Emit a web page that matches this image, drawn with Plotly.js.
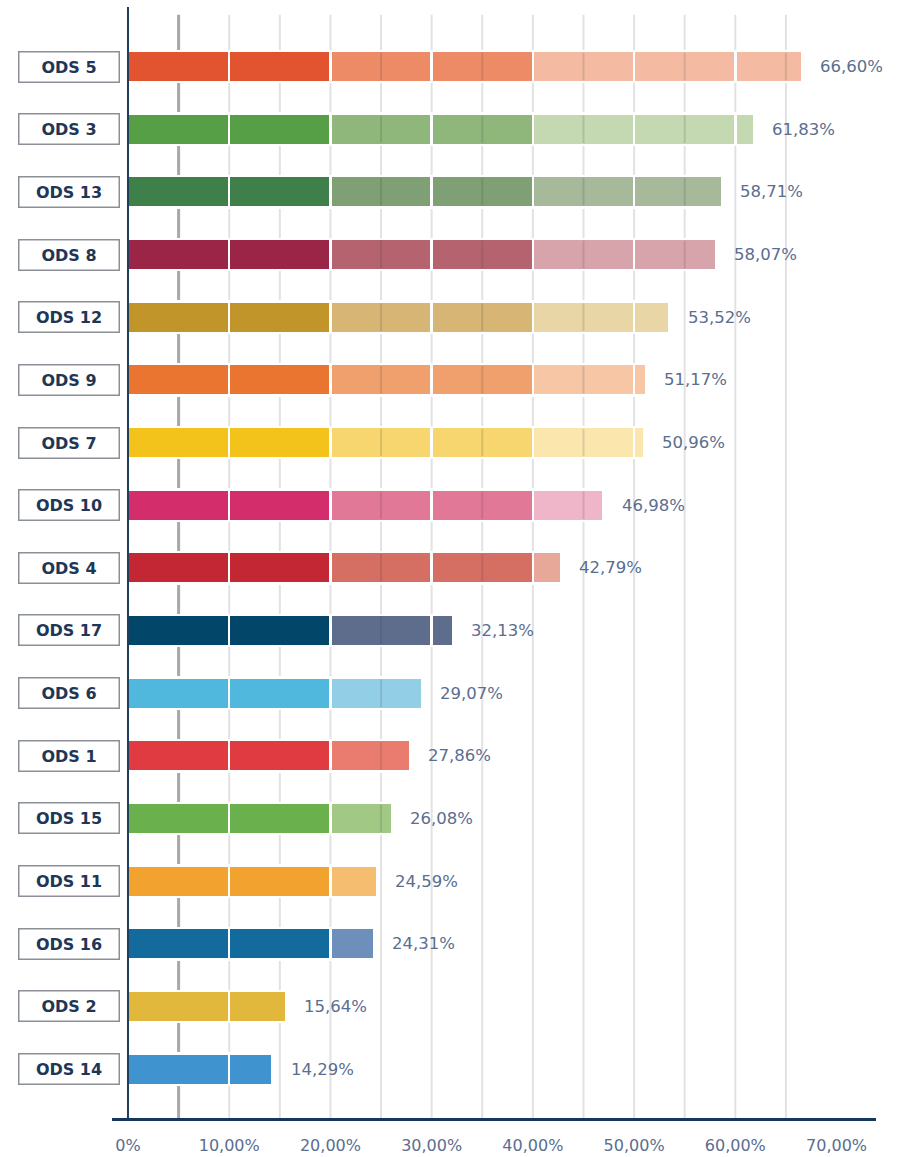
<!DOCTYPE html>
<html>
<head>
<meta charset="utf-8">
<script src="https://cdn.plot.ly/plotly-3.0.1.min.js"></script>
<style>html,body{margin:0;padding:0;background:#fff;}#chart{width:905px;height:1157px;}</style>
</head>
<body>
<div id="chart"></div>
<script>
// ---- data ----
var categories = ["ODS 5","ODS 3","ODS 13","ODS 8","ODS 12","ODS 9","ODS 7","ODS 10","ODS 4","ODS 17","ODS 6","ODS 1","ODS 15","ODS 11","ODS 16","ODS 2","ODS 14"];
var values = [66.60, 61.83, 58.71, 58.07, 53.52, 51.17, 50.96, 46.98, 42.79, 32.13, 29.07, 27.86, 26.08, 24.59, 24.31, 15.64, 14.29];
var baseColors  = ["#e2542f","#569f47","#3f7f4a","#9b2546","#c2952b","#ea7530","#f3c31c","#d42d6b","#c32733","#02466a","#50b8dc","#e03b40","#6ab04c","#f2a22f","#136a9d","#e2b83c","#3f93cf"];
var midColors   = ["#ee8b67","#8fb77b","#7fa074","#b5636f","#d7b574","#f0a06c","#f7d56f","#e27897","#d56e63","#5d6d8b","#92cfe7","#e97c6e","#a2c886","#f5bd6f","#6f8fbb","#f0d27a","#8cbde3"];
var lightColors = ["#f4bba2","#c4d8b2","#a6b99a","#d7a4ab","#e8d6a6","#f6c6a5","#fbe6ae","#efb5c8","#e8a899","#a9b3c6","#c6e6f3","#f3b4aa","#cfe2c0","#f9dcb0","#b3c5dd","#f6e6b5","#c3dcf0"];
var tickValues = [0,10,20,30,40,50,60,70];
var tickLabels = ["0%","10,00%","20,00%","30,00%","40,00%","50,00%","60,00%","70,00%"];
var gridValues = [5,10,15,20,25,30,35,40,45,50,55,60,65];

// ---- build ----
var idx = categories.map(function(_, i){ return i; });
var traces = [];
for (var k = 0; k < 7; k++) {
  var lens = values.map(function(v){
    var l = Math.min(Math.max(v - 10*k, 0), 10);
    return l > 0 ? l : null;
  });
  var cols = values.map(function(_, i){
    return k < 2 ? baseColors[i] : (k < 4 ? midColors[i] : lightColors[i]);
  });
  traces.push({
    type: 'bar', orientation: 'h', x: lens, y: idx,
    width: 0.5,
    marker: {color: cols, line: {color: '#ffffff', width: 2.5}},
    hoverinfo: 'skip', showlegend: false
  });
}

var shapes = [];
gridValues.forEach(function(g){
  shapes.push({type:'line', layer:'below', xref:'x', yref:'paper', x0:g, x1:g, y0:0, y1:0.993,
    line:{color: g === 5 ? '#a8a8a8' : '#e2e2e2', width: g === 5 ? 3 : 2}});
});
// darker grid showing through the lighter bar segments
values.forEach(function(v, i){
  gridValues.forEach(function(g){
    if (g > 20 && g % 10 === 5 && g < v) {
      shapes.push({type:'line', layer:'above', xref:'x', yref:'y', x0:g, x1:g, y0:i-0.22, y1:i+0.22,
        line:{color:'rgba(60,60,60,0.16)', width:2}});
    }
  });
});
// vertical axis line at 0
shapes.push({type:'line', layer:'above', xref:'x', yref:'paper', x0:0, x1:0, y0:0, y1:1,
  line:{color:'#1d3d5c', width:2}});

var annotations = [];
categories.forEach(function(c, i){
  annotations.push({xref:'paper', yref:'y', x:-0.0563, y:i, xanchor:'center', yanchor:'middle',
    text: c, showarrow:false, width:96, height:26, borderpad:1.5, borderwidth:1.5,
    bordercolor:'#8b9096', bgcolor:'#ffffff',
    font:{family:'DejaVu Sans', size:16, color:'#1f3756', weight:'bold'}});
  annotations.push({xref:'x', yref:'y', x:values[i], y:i, xanchor:'left', yanchor:'middle', xshift:16,
    text: values[i].toFixed(2).replace('.', ',') + '%', showarrow:false,
    font:{family:'DejaVu Sans', size:16.5, color:'#5a6e90'}});
});

var layout = {
  width: 905, height: 1157,
  margin: {l:112, r:29, t:7, b:39},
  paper_bgcolor:'#ffffff', plot_bgcolor:'#ffffff',
  barmode:'stack', bargap:0,
  xaxis: {range:[-1.58, 73.9], tickvals: tickValues, ticktext: tickLabels,
    showgrid:false, zeroline:false, showline:true, linecolor:'#17375a', linewidth:3,
    ticks:'outside', ticklen:11, tickcolor:'rgba(0,0,0,0)',
    tickfont:{family:'DejaVu Sans', size:16, color:'#5a6e90'}, fixedrange:true},
  yaxis: {range:[16.78, -0.95], showticklabels:false, showgrid:false, zeroline:false, showline:false, fixedrange:true},
  shapes: shapes, annotations: annotations
};

Plotly.newPlot('chart', traces, layout, {displayModeBar:false, staticPlot:true});
</script>
</body>
</html>
